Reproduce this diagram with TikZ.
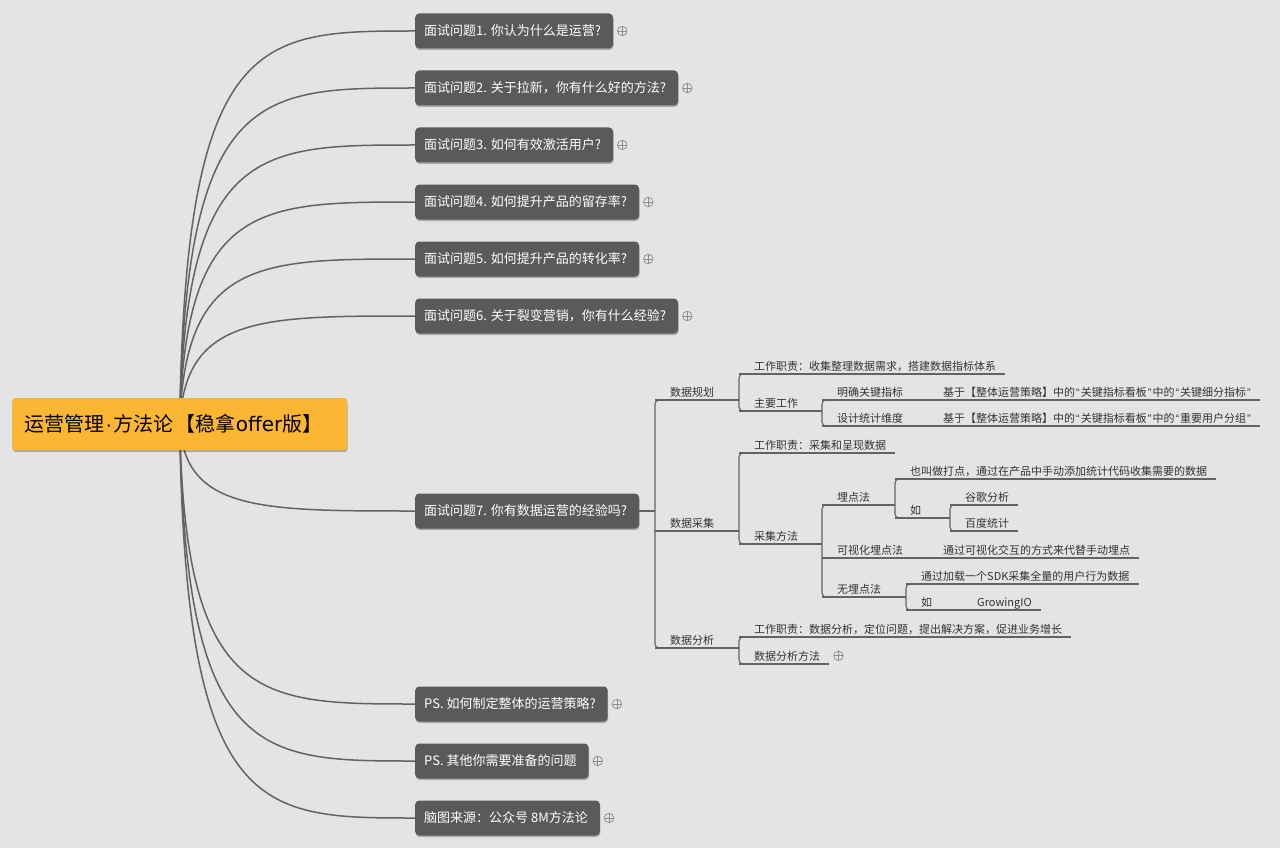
\documentclass[tikz,border=0pt]{standalone}
\usepackage{fontspec}
\newfontfamily\cjk{Noto Sans CJK SC}
\newfontfamily\latf{Liberation Sans}
\newfontfamily\dejf{DejaVu Sans}
\usetikzlibrary{calc,shadows}
\definecolor{bgc}{HTML}{E4E4E4}
\definecolor{linec}{HTML}{636363}
\definecolor{boxc}{HTML}{5A5A5A}
\definecolor{rootc}{HTML}{FBB733}
\definecolor{labc}{HTML}{333333}
\definecolor{expc}{HTML}{8C8C8C}
\pgfdeclarelayer{back}
\pgfsetlayers{back,main}
\newcommand\qa{\hspace{1pt}{\latf “}\hspace{1pt}}
\newcommand\qb{\hspace{1pt}{\latf ”}\hspace{1pt}}
\tikzset{
  qbox/.style={fill=boxc, text=white, rounded corners=4pt, inner xsep=0pt, inner ysep=0pt,
    minimum height=35pt, anchor=west, font=\cjk\fontsize{13}{15}\selectfont,
    drop shadow={shadow xshift=0.5pt, shadow yshift=-1.5pt, opacity=0.25, fill=black}},
  rootbox/.style={fill=rootc, text=black, rounded corners=3pt, anchor=west, text width=311pt,
    align=left, inner xsep=12pt, inner ysep=0pt, minimum height=52pt,
    font=\cjk\fontsize{20}{24}\selectfont,
    drop shadow={shadow xshift=0.5pt, shadow yshift=-2pt, opacity=0.25, fill=black}},
  lab/.style={anchor=base west, inner sep=0pt, text=labc, font=\cjk\fontsize{11}{13}\selectfont},
  trunk/.style={draw=linec, line width=1.5pt},
  ul/.style={draw=linec, line width=1.1pt},
  expander/.style={circle, draw=expc, line width=0.7pt, minimum size=9.5pt, inner sep=0pt,
    path picture={\draw[expc, line width=0.7pt] (path picture bounding box.north) -- (path picture bounding box.south)
      (path picture bounding box.west) -- (path picture bounding box.east);}}
}
% main question node with connector from root
\newcommand\qq[3]{%
  \node[qbox] (#1) at (415,#2) {\hspace*{9pt}#3\hspace*{12pt}};
  \begin{pgfonlayer}{back}\draw[trunk] (root.center) .. controls (185,#2) and (260,#2) .. (#1.west);\end{pgfonlayer}
}
\newcommand\qx[1]{\node[expander] (#1x) at ($(#1.east)+(9,0)$) {};}
% sub label: name, bracket x, underline y, end x (0 = leaf), text
\newcommand\sub[5]{%
  \node[lab] (#1) at (#2+15,#3-4) {#5};
  \coordinate (#1l) at (#2,#3);
  \ifdim #4pt=0pt
    \coordinate (#1r) at ($(#1.east |- #1l)+(9,0)$);
  \else
    \coordinate (#1r) at (#4,#3);
  \fi
  \draw[ul] (#1l) -- (#1r);
}
\newcommand\brk[2]{\draw[ul, rounded corners=4pt] ($(#1l)+(10,0)$) -- (#1l) -- (#2l) -- ($(#2l)+(10,0)$);}

\begin{document}
\begin{tikzpicture}[x=1pt,y=-1pt]
\begin{pgfonlayer}{back}
  \fill[bgc] (0,0) rectangle (1280,848);
\end{pgfonlayer}
\useasboundingbox (0,0) rectangle (1280,848);

\node[rootbox] (root) at (12,424) {运营管理\hspace{1.5pt}{\latf ·}\hspace{1.5pt}方法论\hspace{2pt}【稳拿{\dejf offer}版】};

\qq{q1}{31}{面试问题1. 你认为什么是运营?}\qx{q1}
\qq{q2}{88}{面试问题2. 关于拉新，你有什么好的方法?}\qx{q2}
\qq{q3}{145}{面试问题3. 如何有效激活用户?}\qx{q3}
\qq{q4}{202}{面试问题4. 如何提升产品的留存率?}\qx{q4}
\qq{q5}{259}{面试问题5. 如何提升产品的转化率?}\qx{q5}
\qq{q6}{316}{面试问题6. 关于裂变营销，你有什么经验?}\qx{q6}
\qq{q7}{511}{面试问题7. 你有数据运营的经验吗?}
\qq{q8}{704}{PS. 如何制定整体的运营策略?}\qx{q8}
\qq{q9}{761}{PS. 其他你需要准备的问题}\qx{q9}
\qq{q10}{818}{脑图来源：公众号 8M方法论}\qx{q10}

% level 2
\sub{d1}{655}{400}{739}{数据规划}
\sub{d2}{655}{531}{739}{数据采集}
\sub{d3}{655}{648}{739}{数据分析}
\brk{d1}{d3}
\draw[ul] (q7.east) -- (q7.east -| d1l);

% 数据规划
\sub{d1a}{739}{374}{0}{工作职责：收集整理数据需求，搭建数据指标体系}
\sub{d1b}{739}{411}{822}{主要工作}
\brk{d1a}{d1b}
\sub{d1ba}{822}{400}{928}{明确关键指标}
\sub{d1bb}{822}{426}{928}{设计统计维度}
\brk{d1ba}{d1bb}
\sub{d1baa}{928}{400}{0}{基于【整体运营策略】中的\qa 关键指标看板\qb 中的\qa 关键细分指标\qb}
\sub{d1bba}{928}{426}{0}{基于【整体运营策略】中的\qa 关键指标看板\qb 中的\qa 重要用户分组\qb}

% 数据采集
\sub{d2a}{739}{453}{0}{工作职责：采集和呈现数据}
\sub{d2b}{739}{544}{822}{采集方法}
\brk{d2a}{d2b}
\sub{d2ba}{822}{505}{895}{埋点法}
\sub{d2bb}{822}{558}{928}{可视化埋点法}
\sub{d2bc}{822}{597}{906}{无埋点法}
\brk{d2ba}{d2bc}
\sub{d2baa}{895}{479}{0}{也叫做打点，通过在产品中手动添加统计代码收集需要的数据}
\sub{d2bab}{895}{518}{950}{如}
\brk{d2baa}{d2bab}
\sub{d2baba}{950}{505}{0}{谷歌分析}
\sub{d2babb}{950}{531}{0}{百度统计}
\brk{d2baba}{d2babb}
\sub{d2bba}{928}{558}{0}{通过可视化交互的方式来代替手动埋点}
\sub{d2bca}{906}{584}{0}{通过加载一个SDK采集全量的用户行为数据}
\sub{d2bcb}{906}{610}{962}{如}
\brk{d2bca}{d2bcb}
\sub{d2bcba}{962}{610}{0}{GrowingIO}

% 数据分析
\sub{d3a}{739}{637}{0}{工作职责：数据分析，定位问题，提出解决方案，促进业务增长}
\sub{d3b}{739}{664}{0}{数据分析方法}
\brk{d3a}{d3b}
\node[expander] (d3bx) at ($(d3b.east)+(18,0)$) {};
\end{tikzpicture}
\end{document}
